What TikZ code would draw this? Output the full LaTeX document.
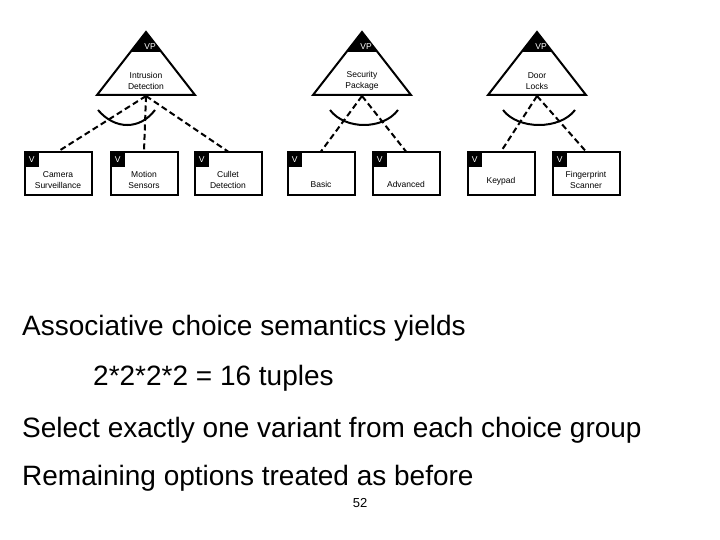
\documentclass[tikz,border=0pt]{standalone}
\usepackage{fontspec}
\setmainfont{Liberation Sans}
\usetikzlibrary{positioning}

\begin{document}
\begin{tikzpicture}[x=1pt,y=-1pt,
        v/.style={draw, line width=2pt, minimum width=67pt, minimum height=43pt},
        lbl/.style={align=center, inner sep=0pt, font=\fontsize{8.5}{10.5}\selectfont},
        tag/.style={fill=black, text=white, inner sep=0pt, minimum size=14pt,
                        font=\fontsize{8.5}{9}\selectfont},
        dep/.style={line width=2pt, dash pattern=on 6pt off 3.5pt},
        big/.style={anchor=west, inner sep=0pt, font=\fontsize{28}{30}\selectfont}]
    \useasboundingbox (0,0) rectangle (720,540);
    % variation points
    \foreach \n/\x/\a/\b in {vp1/146/Intrusion/Detection,
                             vp2/362/Security/Package,
                             vp3/537/Door/Locks} {
        \fill (\x,32) -- (\x-16,52) -- (\x+16,52) -- cycle;
        \draw[line width=2pt, line join=miter] (\x,32) -- (\x-49,95) -- (\x+49,95) -- cycle;
        \node[text=white, lbl] at (\x+4,47) {VP};
        \node[lbl] at (\x,81) {\a\\\b};
        \coordinate (\n) at (\x,96);
    }
    % variants
    \foreach \n/\x/\y/\t in {cam/58/180/{Camera\\Surveillance}, mot/144/180/{Motion\\Sensors},
                          cul/228/180/{Cullet\\Detection}, bas/321/184/{Basic},
                          adv/406/184/{Advanced}, key/501/181/{Keypad},
                          fin/586/180/{Fingerprint\\Scanner}} {
        \node[v] (\n) at (\x,174) {};
        \node[tag, anchor=north west] at ([shift={(1pt,-1pt)}]\n.north west) {V};
        \node[lbl] at (\x,\y) {\t};
    }
    % choice groups
    \draw[dep] (vp1) -- (cam.north) (vp1) -- (mot.north) (vp1) -- (cul.north);
    \draw[dep] (vp2) -- (bas.north) (vp2) -- (adv.north);
    \draw[dep] (vp3) -- (key.north) (vp3) -- (fin.north);
    \draw[line width=2pt] (98,110) .. controls (115,130) and (140,130) .. (155,110);
    \draw[line width=2pt] (330,110) .. controls (345,130) and (383,130) .. (398,110);
    \draw[line width=2pt] (503,110) .. controls (518,130) and (560,130) .. (575,110);
    % text
    \node[big] (t1) at (22,328) {Associative choice semantics yields};
    \node[big] (t2) at (93,378) {2*2*2*2 = 16 tuples};
    \node[big] (t3) at (22,430) {Select exactly one variant from each choice group};
    \node[big] (t4) at (22,478) {Remaining options treated as before};
    \node[font=\fontsize{13}{14}\selectfont] (pg) at (360,503) {52};
\end{tikzpicture}
\end{document}
